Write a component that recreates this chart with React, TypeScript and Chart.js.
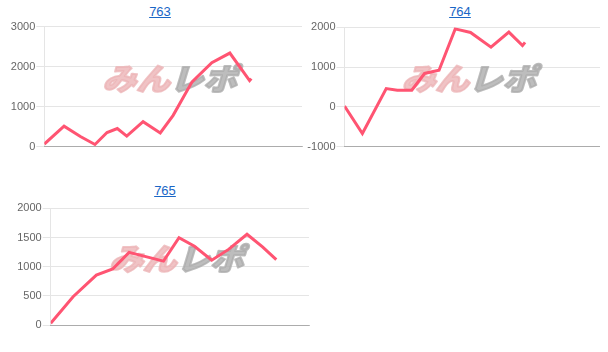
import React, { useEffect, useRef } from "react";
import { Chart, registerables } from "chart.js";

Chart.register(...registerables);

// ---- data ----
const titles = ["763", "764", "765"];

const x763 = [0, 2.3, 4.2, 5.9, 7.3, 8.5, 9.6, 11.5, 13.5, 15.0, 17.2, 19.5, 21.6, 23.9, 24.1];
const v763 = [60, 510, 250, 50, 350, 450, 260, 620, 340, 780, 1620, 2100, 2340, 1650, 1700];

const x764 = [0, 2.1, 4.9, 6.2, 7.9, 9.4, 11.1, 13.0, 14.8, 17.2, 19.3, 20.9, 21.2];
const v764 = [20, -670, 460, 420, 420, 840, 920, 1960, 1870, 1500, 1880, 1540, 1620];

const x765 = [0, 2.6, 5.3, 7.2, 9.1, 13.1, 14.9, 16.7, 18.7, 20.7, 22.8, 24.6, 26.2];
const v765 = [30, 485, 855, 960, 1245, 1095, 1495, 1350, 1110, 1300, 1555, 1340, 1120];

const yMin = [0, -1000, 0];
const yMax = [3000, 2000, 2000];
const yStep = [1000, 1000, 500];
const xMax = 30;

const LINE = "rgb(255, 84, 114)";

type Layout = {
  left: number; top: number; w: number; h: number;
  yw: number; padTop: number; padRight: number; xh: number;
  titleX: number; titleY: number;
};

const layouts: Layout[] = [
  { left: 8, top: 18, w: 296, h: 139, yw: 36.3, padTop: 8.7, padRight: 2, xh: 10.5, titleX: 160, titleY: 4 },
  { left: 302, top: 18, w: 298, h: 139, yw: 42.5, padTop: 9.3, padRight: 0, xh: 10.3, titleX: 460, titleY: 4 },
  { left: 14, top: 199, w: 296, h: 136, yw: 36.7, padTop: 9.3, padRight: 1, xh: 10, titleX: 165, titleY: 183 },
];

const watermark = {
  id: "watermark",
  beforeDatasetsDraw(chart: any) {
    const { ctx, chartArea } = chart;
    const cx = (chartArea.left + chartArea.right) / 2;
    const cy = (chartArea.top + chartArea.bottom) / 2 - 8;
    ctx.save();
    ctx.translate(cx, cy);
    ctx.transform(1.12, 0, -0.3, 1, 0, 0);
    ctx.font = '900 30px "Noto Sans CJK JP"';
    ctx.textBaseline = "middle";
    ctx.lineJoin = "round";
    ctx.lineWidth = 2;
    const a = "みん";
    const b = "レポ";
    const wa = ctx.measureText(a).width;
    const wb = ctx.measureText(b).width;
    const start = -(wa + wb) / 2;
    ctx.textAlign = "left";
    ctx.fillStyle = "rgba(236, 180, 182, 0.8)";
    ctx.strokeStyle = "rgba(236, 180, 182, 0.8)";
    ctx.strokeText(a, start, 0);
    ctx.fillText(a, start, 0);
    ctx.fillStyle = "rgba(172, 172, 172, 0.8)";
    ctx.strokeStyle = "rgba(172, 172, 172, 0.8)";
    ctx.strokeText(b, start + wa, 0);
    ctx.fillText(b, start + wa, 0);
    ctx.restore();
  },
};

function MiniChart({ idx, xs, ys }: { idx: number; xs: number[]; ys: number[] }) {
  const ref = useRef<HTMLCanvasElement | null>(null);
  const L = layouts[idx];
  useEffect(() => {
    if (!ref.current) return;
    const data = xs.map((x, i) => ({ x, y: ys[i] }));
    const chart = new Chart(ref.current, {
      type: "line",
      data: {
        datasets: [
          {
            data,
            borderColor: LINE,
            backgroundColor: LINE,
            borderWidth: 3,
            pointRadius: 0,
            fill: false,
            tension: 0,
          },
        ],
      },
      options: {
        animation: false,
        responsive: false,
        maintainAspectRatio: false,
        events: [],
        layout: { padding: { top: L.padTop, right: L.padRight, left: 0, bottom: 0 } },
        plugins: { legend: { display: false }, tooltip: { enabled: false }, title: { display: false } },
        scales: {
          x: {
            type: "linear",
            min: 0,
            max: xMax,
            ticks: { display: false },
            grid: { drawOnChartArea: false, drawTicks: false },
            border: { display: true, color: "rgba(0,0,0,0.25)", width: 1 },
            afterFit: (s: any) => { s.height = L.xh; },
          },
          y: {
            min: yMin[idx],
            max: yMax[idx],
            ticks: {
              stepSize: yStep[idx],
              padding: 1,
              color: "#666",
              font: { family: '"Liberation Sans", Arial, sans-serif', size: 11 },
              callback: (v: any) => String(v),
            },
            grid: { color: "rgba(0,0,0,0.1)", tickLength: 8 },
            border: { display: true, color: "rgba(0,0,0,0.1)" },
            afterFit: (s: any) => { s.width = L.yw; },
          },
        },
      },
      plugins: [watermark],
    });
    return () => chart.destroy();
  }, []);
  return (
    <>
      <a
        href="#"
        style={{
          position: "absolute",
          left: L.titleX - 40,
          width: 80,
          top: L.titleY,
          textAlign: "center",
          fontFamily: '"Liberation Sans", Arial, sans-serif',
          fontSize: 13,
          color: "#1a66c6",
          textDecoration: "underline",
        }}
      >
        {titles[idx]}
      </a>
      <canvas
        ref={ref}
        width={L.w}
        height={L.h}
        style={{ position: "absolute", left: L.left, top: L.top, width: L.w, height: L.h }}
      />
    </>
  );
}

export default function App() {
  return (
    <div style={{ position: "absolute", left: 0, top: 0, width: 608, height: 352, background: "#fff" }}>
      <MiniChart idx={0} xs={x763} ys={v763} />
      <MiniChart idx={1} xs={x764} ys={v764} />
      <MiniChart idx={2} xs={x765} ys={v765} />
    </div>
  );
}
